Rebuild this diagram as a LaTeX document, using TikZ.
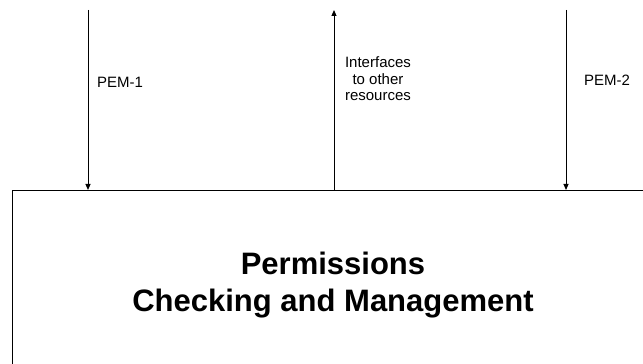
\documentclass[tikz,border=0pt]{standalone}
\usepackage{fontspec}
\setmainfont{Liberation Sans}
\usetikzlibrary{arrows.meta}
\begin{document}
\begin{tikzpicture}[x=1pt,y=1pt,
  arr/.style={line width=1pt,-{Triangle[length=6pt,width=5pt]}},
  lbl/.style={inner sep=0pt,font=\fontsize{15}{16.5}\selectfont},
  bigbox/.style={draw,line width=1pt,rectangle,minimum width=700pt,minimum height=260pt,anchor=north west,inner sep=0pt},
  ttl/.style={inner sep=0pt,align=center,font=\fontsize{31}{37}\selectfont\bfseries}]
\useasboundingbox (0,0) rectangle (643,364);
\clip (0,0) rectangle (643,364);
\node[bigbox] (pcm) at (12,174) {};
\node[ttl] (title) at (333,78.5) {Permissions\\Checking and Management};
\coordinate (p1) at (88,354);
\coordinate (p2) at (566,354);
\coordinate (ifc) at (334,354);
\draw[arr] (p1) -- (p1 |- pcm.north);
\draw[arr] (p2) -- (p2 |- pcm.north);
\draw[arr] (ifc |- pcm.north) -- (ifc);
\node[lbl,anchor=base west] (l1) at (97,276) {PEM-1};
\node[lbl,anchor=base west] (l2) at (584,278) {PEM-2};
\node[lbl,align=center] (l3) at (378,285) {Interfaces\\to other\\resources};
\end{tikzpicture}
\end{document}
